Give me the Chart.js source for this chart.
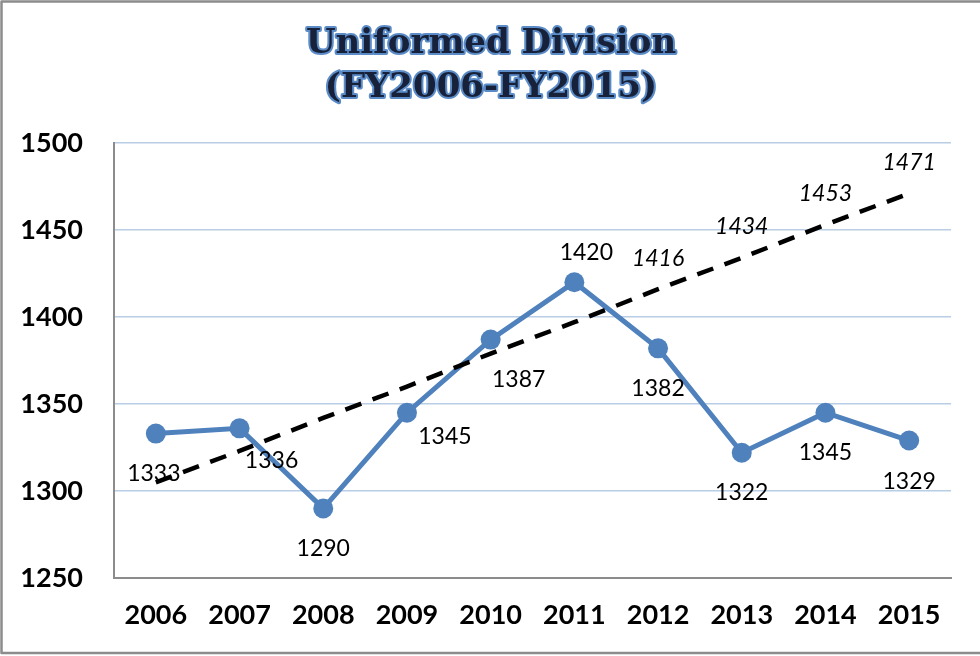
<!DOCTYPE html>
<html>
<head>
<meta charset="utf-8">
<script src="https://cdn.jsdelivr.net/npm/chart.js@4/dist/chart.umd.min.js"></script>
<style>
  body { margin: 0; background: #fff; }
  #wrap { width: 980px; height: 656px; }
</style>
</head>
<body>
<div id="wrap"><canvas id="udChart" width="980" height="656"></canvas></div>
<script>
const years = ["2006", "2007", "2008", "2009", "2010", "2011", "2012", "2013", "2014", "2015"];
const officers = [1333, 1336, 1290, 1345, 1387, 1420, 1382, 1322, 1345, 1329];
const trend = [1305, 1323, 1342, 1360, 1379, 1397, 1416, 1434, 1453, 1471];
const trendLabelled = [6, 7, 8, 9];
const yTicks = [1250, 1300, 1350, 1400, 1450, 1500];
const titleLines = ["Uniformed Division", "(FY2006-FY2015)"];

// label nudges (px) relative to each marker, as placed in the original
const labelOffsets = [
  [-2, 40], [32, 32], [0, 40], [38, 24], [28, 40],
  [12, -30], [0, 40], [0, 40], [0, 40], [0, 41],
];

const labelPlugin = {
  id: "labels",
  afterDatasetsDraw(chart) {
    const ctx = chart.ctx;
    ctx.save();
    ctx.textAlign = "center";
    ctx.textBaseline = "middle";
    ctx.fillStyle = "#000";

    ctx.font = '23px Lato';
    chart.getDatasetMeta(0).data.forEach((pt, i) => {
      const [dx, dy] = labelOffsets[i];
      ctx.fillText(String(officers[i]), pt.x + dx, pt.y + dy);
    });

    ctx.font = 'italic 23px Lato';
    const tmeta = chart.getDatasetMeta(1).data;
    trendLabelled.forEach((i) => {
      ctx.fillText(String(trend[i]), tmeta[i].x, tmeta[i].y - 31);
    });
    ctx.restore();
  },
};

const framePlugin = {
  id: "frame",
  afterDraw(chart) {
    const ctx = chart.ctx;
    ctx.save();
    // title with blue outline
    ctx.font = 'bold 34px "DejaVu Serif"';
    ctx.textAlign = "center";
    ctx.textBaseline = "middle";
    ctx.lineJoin = "round";
    ctx.lineWidth = 4;
    ctx.strokeStyle = "#5B8CC8";
    ctx.fillStyle = "#17223a";
    titleLines.forEach((t, i) => {
      ctx.strokeText(t, 491, 44 + i * 44);
      ctx.fillText(t, 491, 44 + i * 44);
    });
    // outer border (top, left, bottom)
    ctx.strokeStyle = "#8c8c8c";
    ctx.lineWidth = 2.5;
    ctx.beginPath();
    ctx.moveTo(980, 1.5);
    ctx.lineTo(1.5, 1.5);
    ctx.lineTo(1.5, 653);
    ctx.lineTo(980, 653);
    ctx.stroke();
    ctx.restore();
  },
};

new Chart(document.getElementById("udChart").getContext("2d"), {
  type: "line",
  data: {
    labels: years,
    datasets: [
      {
        data: officers,
        borderColor: "#4F81BD",
        backgroundColor: "#4F81BD",
        borderWidth: 5,
        pointRadius: 10,
        pointBackgroundColor: "#4F81BD",
        pointBorderWidth: 0,
        tension: 0,
        order: 1,
      },
      {
        data: trend,
        borderColor: "#000",
        borderWidth: 4.5,
        borderDash: [17, 12],
        pointRadius: 0,
        tension: 0,
        order: 0,
      },
    ],
  },
  options: {
    responsive: false,
    animation: false,
    layout: { padding: { top: 143, right: 29, left: 0, bottom: 0 } },
    plugins: {
      legend: { display: false },
      tooltip: { enabled: false },
      title: { display: false },
    },
    scales: {
      x: {
        offset: true,
        grid: { display: false, drawTicks: false },
        border: { color: "#8c8c8c", width: 2 },
        ticks: {
          color: "#000",
          font: { family: "Lato", weight: "bold", size: 27 },
          padding: 21,
          maxRotation: 0,
        },
        afterFit(scale) { scale.height = 78; },
      },
      y: {
        min: 1250,
        max: 1500,
        afterBuildTicks(scale) { scale.ticks = yTicks.map((v) => ({ value: v })); },
        grid: { color: "#B9CDE5", lineWidth: 1.5, drawTicks: false },
        border: { color: "#8c8c8c", width: 2 },
        ticks: {
          color: "#000",
          font: { family: "Lato", weight: "bold", size: 27 },
          padding: 31,
          callback: (v) => String(v),
        },
        afterFit(scale) { scale.width = 114; },
      },
    },
  },
  plugins: [labelPlugin, framePlugin],
});
</script>
</body>
</html>
